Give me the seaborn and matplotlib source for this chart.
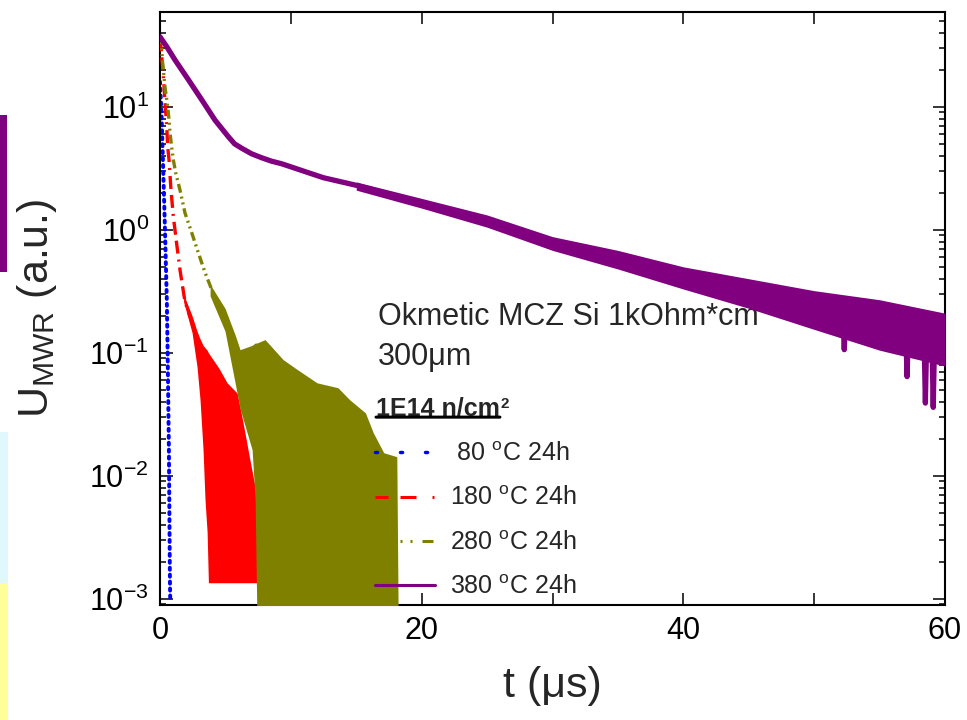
import numpy as np
import pandas as pd
import matplotlib
matplotlib.use("Agg")
import matplotlib.pyplot as plt
import seaborn as sns
from matplotlib.patches import Rectangle
from matplotlib.ticker import FixedLocator, LogLocator, LogFormatterMathtext, NullFormatter

# ---------------- data ----------------
# 80 C anneal (blue, dotted)
t_80 = [0.0, 0.12, 0.20, 0.28, 0.36, 0.44, 0.52, 0.58, 0.63, 0.68, 0.71, 0.74, 0.76, 0.78]
u_80 = [16, 8.6, 4.5, 2.3, 1.2, 0.57, 0.27, 0.106, 0.042, 0.0163, 0.0064, 0.0025, 0.0014, 0.00098]

# 180 C anneal (red, dash-dot): clean decay + noise band
t_180 = [0.0, 0.08, 0.25, 0.38, 0.51, 0.59, 0.69, 0.84, 1.02, 1.28, 1.53, 1.91, 2.3]
u_180 = [36, 30, 18.2, 11, 7.1, 4.7, 3.7, 2.1, 1.28, 0.76, 0.47, 0.26, 0.196]
tb_180 = [1.8, 2.45, 2.83, 3.06, 3.29, 3.44, 3.6, 3.7, 4.5, 5.13, 5.9, 6.35, 6.9, 7.27, 7.5, 7.8]
lo_180 = [0.26, 0.146, 0.077, 0.0415, 0.0163, 0.0064, 0.0035, 0.00135, 0.00135, 0.00135,
          0.00135, 0.00135, 0.00135, 0.00135, 0.00135, 0.00135]
hi_180 = [0.30, 0.20, 0.15, 0.13, 0.115, 0.11, 0.105, 0.10, 0.075, 0.057, 0.047, 0.027,
          0.013, 0.0081, 0.0035, 0.00135]

# 280 C anneal (olive, dash-dot-dot): clean decay + noise band
t_280 = [0.0, 0.08, 0.18, 0.38, 0.59, 0.69, 0.77, 0.89, 1.02, 1.2, 1.53, 1.91, 2.42, 2.93,
         3.44, 3.96, 4.46, 4.97]
u_280 = [38, 37, 24, 14.5, 10, 7.8, 6.1, 4.7, 3.7, 2.9, 2.1, 1.37, 0.95, 0.65, 0.45, 0.325,
         0.24, 0.20]
tb_280 = [3.83, 4.97, 5.74, 6.12, 7.04, 7.27, 7.4, 8.03, 9.41, 10.5, 12.0, 13.6, 14.5, 15.7,
          16.3, 17.1, 18.1, 18.2]
lo_280 = [0.29, 0.15, 0.057, 0.035, 0.0163, 0.0064, 0.0008, 0.0008, 0.0008, 0.0008, 0.0008,
          0.0008, 0.0008, 0.0008, 0.0008, 0.0008, 0.0008, 0.0008]
hi_280 = [0.36, 0.23, 0.14, 0.106, 0.115, 0.12, 0.12, 0.128, 0.088, 0.073, 0.057, 0.052,
          0.0415, 0.0325, 0.0224, 0.0154, 0.0143, 0.0008]

# 380 C anneal (purple, solid): decay + noise band
t_380 = [0, 0.5, 1.15, 2.17, 3.19, 4.2, 5.23, 5.7, 6.25, 7.0, 7.78, 8.5, 9.31, 11.1, 12.5, 15,
         17.5, 20, 25, 30, 35, 40, 45, 50, 52.2, 52.3, 52.4, 55, 57.0, 57.1, 57.2, 58.4, 58.5,
         58.6, 59.0, 59.1, 59.2, 60]
u_380 = [37, 31, 24, 16.6, 11.4, 7.8, 5.7, 5.0, 4.6, 4.15, 3.85, 3.62, 3.44, 2.97, 2.65, 2.3,
         1.95, 1.66, 1.2, 0.78, 0.58, 0.41, 0.3, 0.22, 0.2, 0.106, 0.19, 0.165, 0.15, 0.064,
         0.15, 0.13, 0.039, 0.13, 0.125, 0.036, 0.125, 0.125]
tb_380 = [15, 20, 25, 30, 35, 40, 45, 50, 55, 60]
lo_380 = [2.1, 1.5, 1.05, 0.68, 0.48, 0.33, 0.23, 0.155, 0.105, 0.078]
hi_380 = [2.45, 1.8, 1.32, 0.88, 0.68, 0.5, 0.4, 0.32, 0.27, 0.21]

labels = [" 80 $^{\\mathrm{o}}$C 24h", "180 $^{\\mathrm{o}}$C 24h",
          "280 $^{\\mathrm{o}}$C 24h", "380 $^{\\mathrm{o}}$C 24h"]
x_ticks = [0, 20, 40, 60]
x_minor = [10, 30, 50]

# ---------------- style ----------------
sns.set_theme(style="ticks")
plt.rcParams.update({
    "font.family": ["Liberation Sans", "DejaVu Sans"],
    "mathtext.fontset": "custom",
    "mathtext.rm": "Liberation Sans",
    "mathtext.it": "Liberation Sans:italic",
    "mathtext.bf": "Liberation Sans:bold",
    "axes.unicode_minus": False,
    "lines.scale_dashes": False,
    "axes.linewidth": 1.5,
    "axes.edgecolor": "black",
})

BLUE, RED, OLIVE, PURPLE = "#0000FF", "#FF0000", "#808000", "#800080"
PX = 72 / 100.0  # points per pixel

fig = plt.figure(figsize=(9.67, 7.2), dpi=100)
ax = fig.add_axes([160 / 967, 1 - 605 / 720, 785 / 967, 593 / 720])

# blue
sns.lineplot(x=t_80, y=u_80, ax=ax, color=BLUE, lw=2.8, estimator=None, sort=False,
             linestyle=(0, (1.5, 3.5)), dash_capstyle="round", zorder=2)
l80 = ax.lines[-1]
# red
ax.fill_between(tb_180, lo_180, hi_180, color=RED, lw=0, zorder=3)
sns.lineplot(x=t_180, y=u_180, ax=ax, color=RED, lw=2.4, estimator=None, sort=False,
             linestyle=(0, (13 * PX, 6 * PX, 13 * PX, 6 * PX, 2 * PX, 6 * PX)), zorder=3)
l180 = ax.lines[-1]
# olive
ax.fill_between(tb_280, lo_280, hi_280, color=OLIVE, lw=0, zorder=4)
sns.lineplot(x=t_280, y=u_280, ax=ax, color=OLIVE, lw=2.4, estimator=None, sort=False,
             linestyle=(0, (9 * PX, 4 * PX, 2 * PX, 4 * PX, 2 * PX, 4 * PX)), zorder=4)
l280 = ax.lines[-1]
# purple
ax.fill_between(tb_380, lo_380, hi_380, color=PURPLE, lw=0, zorder=5)
sns.lineplot(x=t_380, y=u_380, ax=ax, color=PURPLE, lw=3.8, estimator=None, sort=False,
             zorder=5)
l380 = ax.lines[-1]

ax.set_yscale("log")
ax.set_xlim(0, 60)
ax.set_ylim(8.9e-4, 59)

ax.xaxis.set_major_locator(FixedLocator(x_ticks))
ax.xaxis.set_minor_locator(FixedLocator(x_minor))
ax.yaxis.set_major_locator(LogLocator(base=10, numticks=10))
ax.yaxis.set_major_formatter(LogFormatterMathtext())
ax.yaxis.set_minor_locator(LogLocator(base=10, subs=np.arange(2, 10), numticks=20))
ax.yaxis.set_minor_formatter(NullFormatter())

ax.tick_params(which="both", direction="in", top=True, right=True, colors="black",
               width=1.1)
ax.tick_params(axis="x", which="both", length=8.5, labelsize=22, pad=8)
ax.tick_params(axis="y", which="major", length=9, labelsize=22, pad=8)
ax.tick_params(axis="y", which="minor", length=4.5)

ax.set_xlabel("t (\u03bcs)", fontsize=31, labelpad=14)
ax.set_ylabel("U$_{\\mathrm{MWR}}$ (a.u.)", fontsize=31, labelpad=22)
for sp in ax.spines.values():
    sp.set_visible(True)
    sp.set_linewidth(1.5)

# annotation text
ax.text(0.2777, 0.472, "Okmetic MCZ Si 1kOhm*cm", transform=ax.transAxes, fontsize=22,
        ha="left", va="baseline")
ax.text(0.2777, 0.405, "300\u03bcm", transform=ax.transAxes, fontsize=22,
        ha="left", va="baseline")
ttl = ax.text(0.2752, 0.3204, "1E14 n/cm", transform=ax.transAxes, fontsize=18,
              fontweight="bold", ha="left", va="baseline")
ax.annotate("2", xy=(1.0, 1.0), xycoords=ttl, xytext=(0.5, -1), textcoords="offset points",
            fontsize=11, fontweight="bold", ha="left", va="top")
ax.annotate("", xy=(0.0, 0.12), xycoords=ttl, xytext=(1.0, 0.12), textcoords=ttl,
            arrowprops=dict(arrowstyle="-", lw=2.2, color="black", shrinkA=0, shrinkB=0))

leg = ax.legend([l80, l180, l280, l380], labels, loc="upper left",
                bbox_to_anchor=(0.274, 0.2746), frameon=False, fontsize=18,
                borderpad=0, borderaxespad=0, handlelength=2.4, handletextpad=0.6,
                labelspacing=0.81)
hl = leg.get_lines()
hl[0].set_linewidth(2.5)
hl[0].set_linestyle((0, (1.5, 16.5)))
hl[1].set_linewidth(2.2)
hl[1].set_linestyle((0, (13 * PX, 12 * PX, 16 * PX, 16 * PX, 2 * PX, 12 * PX)))
hl[2].set_linewidth(2.2)
hl[2].set_linestyle((33 * PX, (11 * PX, 7 * PX, 2 * PX, 8 * PX, 2 * PX, 10 * PX)))
hl[3].set_linewidth(2.2)
leg.set_zorder(10)

# remnants of neighbouring slide at left edge
fig.add_artist(Rectangle((0, 1 - 272 / 720), 7 / 967, 157 / 720, transform=fig.transFigure,
                         color=PURPLE, lw=0))
fig.add_artist(Rectangle((0, 1 - 583 / 720), 8 / 967, 151 / 720, transform=fig.transFigure,
                         color="#E0F8FC", lw=0))
fig.add_artist(Rectangle((0, 0), 8 / 967, 137 / 720, transform=fig.transFigure,
                         color="#FFFF99", lw=0))

fig.savefig("out.png", dpi=100)
